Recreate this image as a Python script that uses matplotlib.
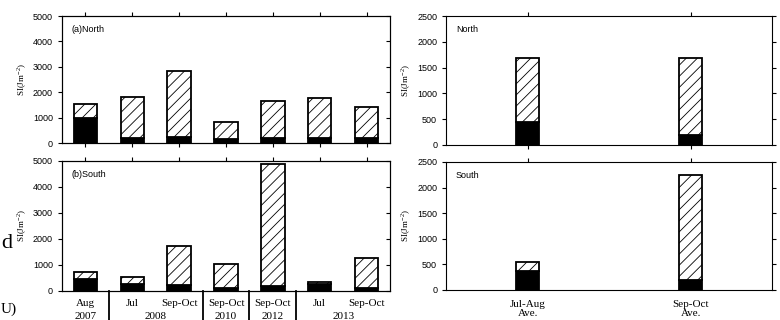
import numpy as np
import matplotlib
matplotlib.use("Agg")
import matplotlib.pyplot as plt

# event panels (a) North / (b) South
months = ["Aug", "Jul", "Sep-Oct", "Sep-Oct", "Sep-Oct", "Jul", "Sep-Oct"]
years = ["2007", "2008", "2010", "2012", "2013"]
north_total = [1520, 1800, 2850, 830, 1640, 1760, 1410]
north_black = [1000, 210, 250, 170, 200, 200, 200]
south_total = [740, 520, 1720, 1020, 4870, 330, 1280]
south_black = [460, 270, 230, 130, 205, 260, 130]

# averages
ave_labels = ["Jul-Aug\nAve.", "Sep-Oct\nAve."]
ave_north_total = [1680, 1680]
ave_north_black = [450, 200]
ave_south_total = [540, 2250]
ave_south_black = [360, 195]

SANS = "Liberation Sans"
SERIF = "Liberation Serif"
plt.rcParams["hatch.linewidth"] = 0.6
plt.rcParams["mathtext.fontset"] = "custom"
plt.rcParams["mathtext.rm"] = SERIF

fig = plt.figure(figsize=(7.8, 3.2), dpi=100)
ax_n = fig.add_axes([0.0795, 0.553, 0.4205, 0.397])
ax_s = fig.add_axes([0.0795, 0.091, 0.4205, 0.406])
ax_an = fig.add_axes([0.572, 0.547, 0.418, 0.403])
ax_as = fig.add_axes([0.572, 0.094, 0.418, 0.400])


def stacked(ax, x, total, black, width):
    total = np.array(total); black = np.array(black)
    ax.bar(x, black, width, color="black", edgecolor="black", lw=1.3)
    ax.bar(x, total - black, width, bottom=black, color="white",
           edgecolor="black", hatch="///", lw=1.3)


def style(ax, ymax, step, label, right_in):
    ax.set_ylim(0, ymax)
    ticks = np.arange(0, ymax + 1, step)
    ax.set_yticks(ticks)
    ax.tick_params(axis="y", labelsize=6.5, direction="out", length=3,
                   width=0.8, right=not right_in)
    ax.tick_params(axis="x", direction="out", length=3, width=0.8, top=True)
    for t in ax.get_yticklabels():
        t.set_fontfamily(SANS)
    ax.set_ylabel(r"SI(Jm$^{\mathrm{-2}}$)", fontsize=6.5, family=SERIF,
                  labelpad=3)
    for s in ax.spines.values():
        s.set_linewidth(0.8)
    if right_in:
        tw = ax.twinx()
        tw.set_ylim(0, ymax)
        tw.set_yticks(ticks)
        tw.tick_params(axis="y", direction="in", length=3, width=0.8,
                       labelright=False)
    ax.text(0.03, 0.93, label, transform=ax.transAxes, fontsize=6.5,
            family=SANS, va="top", ha="left")


x7 = np.arange(len(months))
stacked(ax_n, x7, north_total, north_black, 0.5)
stacked(ax_s, x7, south_total, south_black, 0.5)
for ax in (ax_n, ax_s):
    ax.set_xlim(-0.5, 6.5)
ax_n.set_xticks(x7, [""] * len(x7))
ax_s.set_xticks(x7, [""] * len(x7))
style(ax_n, 5000, 1000, "(a)North", True)
style(ax_s, 5000, 1000, "(b)South", True)
ax_s.tick_params(axis="x", bottom=False)

# month / year labels below (b)
tr = ax_s.get_xaxis_transform()
for xi, m in zip(x7, months):
    ax_s.text(xi, -0.06, m, transform=tr, ha="center", va="top",
              fontsize=8, family=SERIF)
year_x = [0, 1.5, 3, 4, 5.5]
for xi, yr in zip(year_x, years):
    ax_s.text(xi, -0.16, yr, transform=tr, ha="center", va="top",
              fontsize=8, family=SERIF)
for xs in [0.5, 2.5, 3.5, 4.5]:
    ax_s.plot([xs, xs], [0, -0.23], transform=tr, color="black", lw=1.3,
              clip_on=False)

x2 = np.arange(2)
stacked(ax_an, x2, ave_north_total, ave_north_black, 0.14)
stacked(ax_as, x2, ave_south_total, ave_south_black, 0.14)
for ax in (ax_an, ax_as):
    ax.set_xlim(-0.5, 1.5)
ax_an.set_xticks(x2, ["", ""])
ax_as.set_xticks(x2, ave_labels)
style(ax_an, 2500, 500, "North", False)
style(ax_as, 2500, 500, "South", False)
ax_as.tick_params(axis="x", bottom=False, labelsize=8, pad=4)
for t in ax_as.get_xticklabels():
    t.set_fontfamily(SERIF)
    t.set_linespacing(1.0)

# page text cropped at the left edge of the figure
fig.text(0.001, 0.24, "d", fontsize=16, family=SERIF, ha="left", va="center")
fig.text(0.001, 0.035, "U)", fontsize=11, family=SERIF, ha="left", va="center")

fig.savefig("out.png", dpi=100)
